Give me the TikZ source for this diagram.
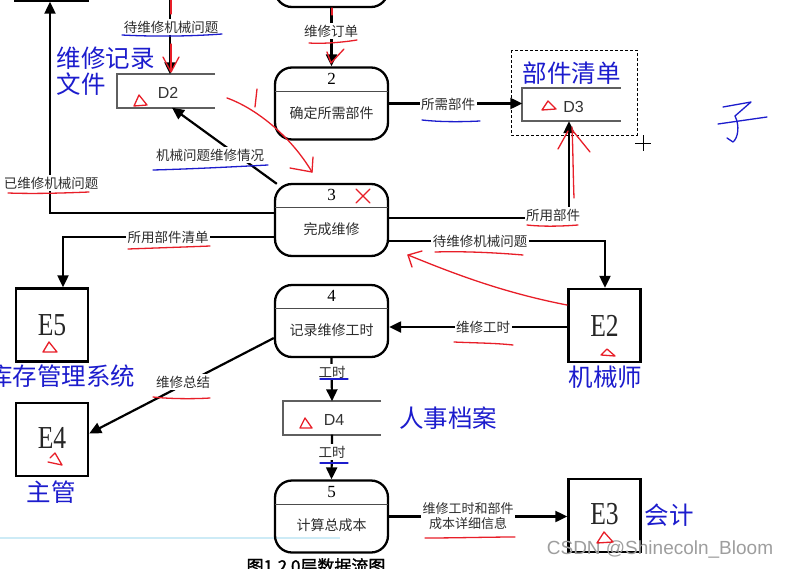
\documentclass[tikz,border=0pt]{standalone}
\usepackage{fontspec}
\newfontfamily\cjk{Noto Sans CJK SC}
\newfontfamily\cjkb[FakeBold=1.5]{Noto Sans CJK SC}
\newfontfamily\serf{Liberation Serif}
\newfontfamily\sansf{Liberation Sans}
\usetikzlibrary{arrows.meta,calc}
\definecolor{hblue}{RGB}{28,28,205}
\definecolor{hred}{RGB}{232,30,40}
\definecolor{lbl}{RGB}{45,45,45}
\definecolor{stgray}{RGB}{95,95,95}
\definecolor{lblue}{RGB}{205,235,246}
\begin{document}
\begin{tikzpicture}[x=1pt,y=-1pt,
  proc/.style={draw,line width=2.3pt,rounded corners=17pt,minimum width=113pt,minimum height=72pt,inner sep=0pt},
  ent/.style={draw,line width=2.4pt,minimum width=72pt,minimum height=73pt,inner sep=0pt},
  store/.style={minimum width=98pt,minimum height=33pt,inner sep=0pt},
  storeline/.style={draw=stgray,line width=1.8pt},
  divline/.style={draw=black!70,line width=1pt},
  flow/.style={line width=2.2pt,-{Triangle[length=12pt,width=11pt]}},
  lab/.style={fill=white,inner sep=1.5pt,font=\cjk\fontsize{13.5}{15}\selectfont,text=lbl},
  ptext/.style={font=\cjk\fontsize{14}{15}\selectfont,text=lbl},
  pnum/.style={font=\serf\fontsize{17}{17}\selectfont},
  etext/.style={font=\serf\fontsize{32}{32}\selectfont,text=black!85},
  dtext/.style={font=\sansf\fontsize{16}{16}\selectfont,text=black!80},
  note/.style={font=\cjk\fontsize{24.5}{27}\selectfont,text=hblue},
  hr/.style={hred,line width=1.3pt,line cap=round,line join=round},
  hb/.style={hblue,line width=1.3pt,line cap=round,line join=round},
]
\useasboundingbox (0,0) rectangle (787,568);
\fill[white] (0,0) rectangle (787,568);

% light blue line
\draw[lblue,line width=1.5pt] (0,538) -- (340,538);

% processes
\node[proc] (p1) at (331.5,-29) {};
\node[proc] (p2) at (331.5,103.5) {};
\node[proc] (p3) at (331.5,220) {};
\node[proc] (p4) at (331.5,321) {};
\node[proc] (p5) at (331.5,516.5) {};
\foreach \p/\n/\t in {p2/2/确定所需部件,p3/3/完成维修,p4/4/记录维修工时,p5/5/计算总成本}{
  \draw[divline] ($(\p.north west)+(1,25)$) -- ($(\p.north east)+(-1,25)$);
  \node[pnum] (\p num) at ($(\p.north)+(0,12.5)$) {\n};
  \node[ptext] (\p txt) at ($(\p.south)+(0,-28)$) {\t};
}

% external entities
\node[ent] (E0) at (51.5,-36) {};
\node[ent] (E5) at (52,325) {};
\node[ent] (E2) at (604.5,325.5) {};
\node[ent] (E4) at (52,439.5) {};
\node[ent] (E3) at (604.5,515.5) {};
\node[etext] (E5t) at (52,325) {\scalebox{0.8}[1]{E5}};
\node[etext] (E2t) at (604.5,325.5) {\scalebox{0.8}[1]{E2}};
\node[etext] (E4t) at (52,437.5) {\scalebox{0.8}[1]{E4}};
\node[etext] (E3t) at (604.5,514.5) {\scalebox{0.8}[1]{E3}};

% data stores
\node[store] (D2) at (166,91) {};
\node[store] (D3) at (571.5,104.5) {};
\node[store] (D4) at (332,418) {};
\foreach \d in {D2,D3,D4}{
  \draw[storeline] (\d.north east) -- (\d.north west) -- (\d.south west) -- (\d.south east);
}
\node[dtext] (D2t) at ($(D2.center)+(2,2)$) {D2};
\node[dtext] (D3t) at ($(D3.center)+(2,2)$) {D3};
\node[dtext] (D4t) at ($(D4.center)+(2,2)$) {D4};

% dashed frame around D3
\draw[line width=0.9pt,dash pattern=on 3pt off 2pt] (511,50) rectangle (637,135);

% connectors
\draw[flow] (p1.south) -- (p2.north);
\coordinate (t1) at (170,-2);
\draw[flow] (t1) -- (t1 |- D2.north);
\draw[flow] (p2.east) -- (p2.east -| D3.west);
\draw[flow] ($(p3.north west)+(3,1)$) -- ($(D2.south)+(6,0)$);
\coordinate (c1) at (50,213);
\draw[flow] ([yshift=7pt]p3.west) -- (c1) -- (c1 |- E0.south);
\coordinate (c2) at (63,237);
\draw[flow] ([yshift=-17pt]p3.west) -- (c2) -- (c2 |- E5.north);
\coordinate (c3) at (569,218);
\draw[flow] ([yshift=2pt]p3.east) -- (c3) -- (c3 |- D3.south);
\coordinate (c4) at (605,241);
\draw[flow] ([yshift=-21pt]p3.east) -- (c4) -- (c4 |- E2.north);
\draw[flow] ([yshift=-1.5pt]E2.west) -- ([yshift=-1.5pt]E2.west -| p4.east);
\draw[flow] ([yshift=-17pt]p4.west) -- ([yshift=6pt]E4.east);
\draw[flow] (p4.south) -- (D4.north);
\draw[flow] (D4.south) -- (p5.north);
\draw[flow] (p5.east) -- (p5.east -| E3.west);

% flow labels
\node[lab] (l1) at (331,31) {维修订单};
\node[lab] (l2) at (171,27) {待维修机械问题};
\node[lab] (l3) at (448,104) {所需部件};
\node[lab] (l4) at (210,155) {机械问题维修情况};
\node[lab] (l5) at (51,183) {已维修机械问题};
\node[lab] (l6) at (168,237) {所用部件清单};
\node[lab] (l7) at (553,215) {所用部件};
\node[lab] (l8) at (480,241) {待维修机械问题};
\node[lab] (l9) at (483,327) {维修工时};
\node[lab] (l10) at (183,382) {维修总结};
\node[lab] (l11) at (332,372) {工时};
\node[lab] (l12) at (332,452) {工时};
\node[lab,align=center,font=\cjk\fontsize{13}{15}\selectfont] (l13) at (468,516) {维修工时和部件\\成本详细信息};

% blue handwritten names
\node[note,anchor=west] (n1) at (53,58) {维修记录};
\node[note,anchor=west] (n1b) at (53,84) {文件};
\node[note] (n2) at (571.5,73) {部件清单};
\node[note] (n3) at (61.5,376) {库存管理系统};
\node[note] (n4) at (605.5,377) {机械师};
\node[note] (n5) at (51,492) {主管};
\node[note] (n6) at (448,418) {人事档案};
\node[note] (n7) at (669,515) {会计};

% caption and watermark
\node[font=\cjkb\fontsize{17}{17}\selectfont,anchor=north,inner sep=0pt] (cap) at (316,558) {图1.2 0层数据流图};
\node[font=\sansf\fontsize{19}{19}\selectfont,text=black!38] (wm) at (660,549) {CSDN @Shinecoln\_Bloom};

% crosshair
\draw[line width=0.8pt] (635,143) -- (651,143) (643,135) -- (643,151);

% handwritten red marks
\draw[hr] (171,0) -- (171,14);
\draw[hr] (171,44) -- (171,70);
\draw[hr] (163,57) -- (171,72) -- (179,57);
\draw[hr] (332,8) -- (332,15);
\draw[hr] (327,52) -- (331,63) -- (344,49);
\draw[hr] (257,89) -- (255,107);
\draw[hr] (227,98) .. controls (255,108) and (290,135) .. (312,172);
\draw[hr] (290,168) -- (312,172) -- (313,157);
\draw[hr] (356,189) -- (370,203) (370,189) -- (356,203);
\draw[hr] (574,198) .. controls (573,170) and (573,150) .. (572,127);
\draw[hr] (558,149) -- (568,131);
\draw[hr] (590,152) -- (573,131);
\draw[hr] (567,305) .. controls (500,292) and (450,272) .. (408,255);
\draw[hr] (422,251) -- (408,255) -- (412,267);
% red triangles
\draw[hr] (134,106) -- (147,105) -- (139,95) -- cycle;
\draw[hr] (542,110) -- (556,109) -- (548,101) -- cycle;
\draw[hr] (300,428) -- (312,428) -- (305,418) -- cycle;
\draw[hr] (43,352) -- (57,352) -- (49,342) -- cycle;
\draw[hr] (601,355) -- (615,356) -- (607,349) -- cycle;
\draw[hr] (48,462) -- (62,465) -- (55,453) -- (50,458);
\draw[hr] (597,543) -- (613,542) -- (604,532) -- cycle;

% underlines
\draw[hb] (122,35) .. controls (160,37) and (195,36) .. (222,34);
\draw[hr] (309,43) .. controls (325,44) and (345,42) .. (357,40);
\draw[hb] (422,120) .. controls (440,122) and (460,122) .. (480,121);
\draw[hb] (153,170) .. controls (190,169) and (230,167) .. (268,165);
\draw[hr] (8,193) .. controls (35,194) and (65,193) .. (89,192);
\draw[hr] (128,249) .. controls (155,248) and (185,247) .. (210,246);
\draw[hr] (527,225) .. controls (545,227) and (565,226) .. (578,225);
\draw[hr] (435,252) .. controls (465,251) and (500,253) .. (523,255);
\draw[hr] (454,342) .. controls (475,343) and (495,343) .. (513,345);
\draw[hr] (153,397) .. controls (170,399) and (195,399) .. (210,398);
\draw[hb] (320,379) -- (348,379);
\draw[hb] (320,463) -- (348,463);
\draw[hr] (425,538) .. controls (455,538) and (490,537) .. (515,537);

% blue handwritten character
\draw[hb] (723,107) -- (751,102) -- (735,116);
\draw[hb] (735,116) .. controls (740,126) and (738,138) .. (733,142) -- (727,138);
\draw[hb] (718,124) -- (767,117);
\end{tikzpicture}
\end{document}
